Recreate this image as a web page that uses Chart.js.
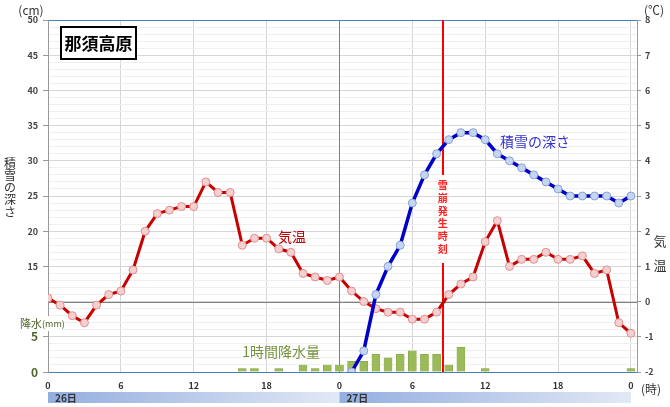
<!DOCTYPE html>
<html lang="ja">
<head>
<meta charset="utf-8">
<script src="https://cdn.jsdelivr.net/npm/chart.js@4.4.1/dist/chart.umd.min.js"></script>
<style>
  html, body { margin: 0; padding: 0; background: #fff; }
  #wrap { width: 670px; height: 407px; position: relative; }
</style>
</head>
<body>
<div id="wrap"><canvas id="nasu-chart"></canvas></div>
<script>
// hours from 26日 0時 to 28日 0時
const hours = [0, 1, 2, 3, 4, 5, 6, 7, 8, 9, 10, 11, 12, 13, 14, 15, 16, 17, 18, 19, 20, 21, 22, 23, 24,
  25, 26, 27, 28, 29, 30, 31, 32, 33, 34, 35, 36, 37, 38, 39, 40, 41, 42, 43, 44, 45, 46, 47, 48];

// 気温 (℃)
const temperature = [0.1, -0.1, -0.4, -0.6, -0.1, 0.2, 0.3, 0.9, 2.0, 2.5, 2.6, 2.7, 2.7,
  3.4, 3.1, 3.1, 1.6, 1.8, 1.8, 1.5, 1.4, 0.8, 0.7, 0.6, 0.7,
  0.3, 0.0, -0.2, -0.3, -0.3, -0.5, -0.5, -0.3, 0.2, 0.5, 0.7, 1.7,
  2.3, 1.0, 1.2, 1.2, 1.4, 1.2, 1.2, 1.3, 0.8, 0.9, -0.6, -0.9];

// 積雪の深さ (cm)
const snowDepth = [null, null, null, null, null, null, null, null, null, null, null, null, null,
  null, null, null, null, null, null, null, null, null, null, null, null,
  0, 3, 11, 15, 18, 24, 28, 31, 33, 34, 34, 33,
  31, 30, 29, 28, 27, 26, 25, 25, 25, 25, 24, 25];

// 1時間降水量 (mm)
const precipitation = [null, null, null, null, null, null, null, null, null, null, null, null, null,
  null, null, null, 0.5, 0.5, null, 0.5, null, 1.0, 0.5, 1.0, 1.0,
  1.5, 1.5, 2.5, 2.0, 2.5, 3.0, 2.5, 2.5, 1.0, 3.5, null, 0.5,
  null, null, null, null, null, null, null, null, null, null, null, 0.5];

const hourTicks = [0, 6, 12, 18, 24, 30, 36, 42, 48];
const hourLabels = ['0', '6', '12', '18', '0', '6', '12', '18', '0'];
const depthTicks = [15, 20, 25, 30, 35, 40, 45, 50];
const rainTicks = [0, 5];
const dayLabels = ['26日', '27日'];
const avalancheHour = 32.5; // 27日 8時30分頃

const JP = "'Noto Sans CJK JP', 'Noto Sans', sans-serif";
const GREEN_TXT = '#4f6228';

const pts = arr => arr.map((v, i) => ({ x: hours[i], y: v }));
const tv = c => (c && c.tick ? c.tick.value : null);

function vText(ctx, str, x, y, step) {
  [...str].forEach((ch, i) => ctx.fillText(ch, x, y + i * step));
}

const overlay = {
  id: 'overlay',
  beforeDatasetsDraw(chart) {
    const { ctx, chartArea: a, scales } = chart;
    ctx.save();
    // day boundary and 0℃ lines, solid over the minor grid
    const dx = Math.round(scales.x.getPixelForValue(24)) + 0.5;
    const zy = Math.round(scales.yT.getPixelForValue(0)) + 0.5;
    ctx.strokeStyle = '#7f7f7f';
    ctx.lineWidth = 1;
    ctx.beginPath();
    ctx.moveTo(dx, a.top);
    ctx.lineTo(dx, a.bottom);
    ctx.moveTo(a.left, zy);
    ctx.lineTo(a.right, zy);
    ctx.stroke();

    const x = Math.round(scales.x.getPixelForValue(avalancheHour));
    ctx.strokeStyle = '#ff0000';
    ctx.lineWidth = 2;
    ctx.beginPath();
    ctx.moveTo(x, a.top);
    ctx.lineTo(x, 175);
    ctx.moveTo(x, 263);
    ctx.lineTo(x, a.bottom);
    ctx.stroke();
    ctx.restore();
  },
  afterDraw(chart) {
    const { ctx, scales } = chart;
    const sx = scales.x, sy = scales.y, st = scales.yT;
    ctx.save();
    ctx.textAlign = 'center';
    ctx.textBaseline = 'middle';

    // 雪崩発生時刻
    const ax = sx.getPixelForValue(avalancheHour);
    ctx.fillStyle = '#ff2020';
    ctx.font = 'bold 10px ' + JP;
    vText(ctx, '雪崩発生時刻', ax, 185, 12.9);

    // series labels
    ctx.font = '14px ' + JP;
    ctx.fillStyle = '#c00000';
    ctx.fillText('気温', sx.getPixelForValue(20.1), st.getPixelForValue(1.85));
    ctx.fillStyle = '#3333cc';
    ctx.fillText('積雪の深さ', sx.getPixelForValue(40.1), sy.getPixelForValue(32.7));
    ctx.fillStyle = '#76923c';
    ctx.fillText('1時間降水量', sx.getPixelForValue(19.2), sy.getPixelForValue(2.9));

    // title box
    ctx.fillStyle = '#fff';
    ctx.fillRect(61, 27, 75, 32);
    ctx.strokeStyle = '#000';
    ctx.lineWidth = 2;
    ctx.strokeRect(61, 27, 75, 32);
    ctx.fillStyle = '#000';
    ctx.font = 'bold 17px ' + JP;
    ctx.fillText('那須高原', 98.5, 43.5);

    // axis units and titles
    ctx.fillStyle = '#333';
    ctx.font = '12px ' + JP;
    ctx.fillText('(cm)', 31, 10);
    ctx.fillText('(℃)', 654, 10);
    ctx.fillText('(時)', 651, 389);
    vText(ctx, '積雪の深さ', 10, 163, 12.3);
    ctx.font = '13px ' + JP;
    vText(ctx, '気温', 660, 241, 24.5);

    // 降水(mm)
    ctx.fillStyle = '#fff';
    ctx.fillRect(19, 316, 42, 15);
    ctx.fillStyle = GREEN_TXT;
    ctx.font = '11px ' + JP;
    ctx.textAlign = 'left';
    ctx.fillText('降水', 20, 323.5);
    ctx.font = '9px ' + JP;
    ctx.fillText('(mm)', 42, 324);

    // day bars
    for (let d = 0; d < 2; d++) {
      const x0 = sx.getPixelForValue(d * 24);
      const x1 = sx.getPixelForValue(d * 24 + 24);
      const g = ctx.createLinearGradient(x0, 0, x1, 0);
      g.addColorStop(0, '#93aee0');
      g.addColorStop(1, '#e2e8f5');
      ctx.fillStyle = g;
      ctx.fillRect(x0, 392, x1 - x0, 11);
      ctx.fillStyle = '#333';
      ctx.font = 'bold 10px ' + JP;
      ctx.fillText(dayLabels[d], x0 + 7, 398);
    }
    ctx.restore();
  }
};

new Chart(document.getElementById('nasu-chart'), {
  type: 'line',
  data: {
    datasets: [
      {
        label: '積雪の深さ',
        data: pts(snowDepth),
        yAxisID: 'y',
        borderColor: '#0000c8',
        borderWidth: 3.5,
        pointRadius: 4,
        pointBackgroundColor: '#c6d5f0',
        pointBorderColor: '#86a2d8',
        pointBorderWidth: 1,
        order: 1
      },
      {
        label: '気温',
        data: pts(temperature),
        yAxisID: 'yT',
        borderColor: '#c80000',
        borderWidth: 3,
        pointRadius: 4,
        pointBackgroundColor: '#f4d0d0',
        pointBorderColor: '#e08e8e',
        pointBorderWidth: 1,
        order: 2
      },
      {
        type: 'bar',
        label: '1時間降水量',
        data: pts(precipitation),
        yAxisID: 'y',
        backgroundColor: '#9bbb59',
        borderColor: '#7f9f44',
        borderWidth: 0.5,
        barThickness: 8,
        grouped: false,
        order: 3
      }
    ]
  },
  options: {
    responsive: true,
    maintainAspectRatio: false,
    animation: false,
    layout: { padding: { top: 20 } },
    plugins: {
      legend: { display: false },
      tooltip: { enabled: false }
    },
    scales: {
      x: {
        type: 'linear',
        min: 0,
        max: 48.5,
        offset: false,
        afterBuildTicks: s => { s.ticks = hourTicks.map(v => ({ value: v })); },
        afterFit: s => { s.height = 35; },
        border: { color: '#4a7ebb' },
        grid: {
          offset: false,
          drawTicks: false,
          color: '#d6d6d6'
        },
        ticks: {
          padding: 8,
          color: '#333',
          font: { family: JP, size: 9, weight: 'bold' },
          callback: (v, i) => hourLabels[i]
        }
      },
      y: {
        position: 'left',
        min: 0,
        max: 50,
        afterFit: s => { s.width = 48; },
        border: { color: '#9a9a9a' },
        grid: {
          tickLength: 5,
          color: c => {
            const v = tv(c);
            if (v === 50) return '#4a7ebb';
            if (v === 0) return 'rgba(0,0,0,0)';
            return v % 5 === 0 ? '#d6d6d6' : '#efefef';
          },
          tickColor: c => {
            const v = tv(c);
            return (depthTicks.includes(v) || rainTicks.includes(v)) ? '#9a9a9a' : 'rgba(0,0,0,0)';
          }
        },
        ticks: {
          stepSize: 1,
          autoSkip: false,
          padding: 5,
          color: c => (rainTicks.includes(tv(c)) ? GREEN_TXT : '#444'),
          font: c => (rainTicks.includes(tv(c))
            ? { family: JP, size: 12, weight: 'bold' }
            : { family: JP, size: 9, weight: 'bold' }),
          callback: v => (depthTicks.includes(v) || rainTicks.includes(v) ? String(v) : '')
        }
      },
      yT: {
        position: 'right',
        min: -2,
        max: 8,
        afterFit: s => { s.width = 33; },
        border: { color: '#9a9a9a' },
        grid: { drawOnChartArea: false, tickLength: 4, tickColor: '#9a9a9a' },
        ticks: {
          stepSize: 1,
          padding: 4,
          color: '#444',
          font: { family: JP, size: 9, weight: 'bold' }
        }
      }
    }
  },
  plugins: [overlay]
});
</script>
</body>
</html>
